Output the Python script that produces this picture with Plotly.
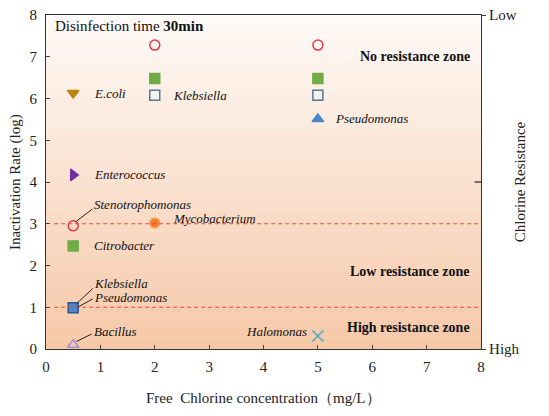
import plotly.graph_objects as go

# ---- data ----
names = ["E.coli", "Enterococcus", "Stenotrophomonas", "Citrobacter", "Klebsiella/Pseudomonas", "Bacillus",
         "Stenotrophomonas 2", "Citrobacter 2", "Klebsiella 2", "Mycobacterium",
         "Stenotrophomonas 5", "Citrobacter 5", "Klebsiella 5", "Pseudomonas 5", "Halomonas"]
conc = [0.5, 0.5, 0.5, 0.5, 0.5, 0.5, 2, 2, 2, 2, 5, 5, 5, 5, 5]
inact = [6.13, 4.17, 2.95, 2.47, 0.99, 0.1, 7.28, 6.48, 6.08, 3.02, 7.28, 6.48, 6.08, 5.51, 0.31]
symbols = ["triangle-down", "triangle-right", "circle-open", "square", "square", "triangle-up-open",
           "circle-open", "square", "square", "circle",
           "circle-open", "square", "square", "triangle-up", "x-thin"]
colors = ["#b8860b", "#7030a0", "#e8374a", "#70ad47", "#4f86c6", "#a48fcf",
          "#e8374a", "#70ad47", "#f2f2f2", "#f07b2a",
          "#e8374a", "#70ad47", "#f2f2f2", "#4a86c8", "#4bacc6"]
edges = ["#b8860b", "#7030a0", "#e8374a", "#70ad47", "#2f5597", "#a48fcf",
         "#e8374a", "#70ad47", "#5a7895", "#f4a460",
         "#e8374a", "#70ad47", "#5a7895", "#4a86c8", "#4bacc6"]

thresholds = [1, 3]
x_ticks = list(range(9))
y_ticks = list(range(9))
right_ticks = [0, 8]
right_labels = ["High", "Low"]

serif = "Liberation Serif, Times New Roman, serif"

fig = go.Figure()

# gradient background bands
n = 60
c0 = (254, 250, 247)
c1 = (246, 200, 168)
shapes = []
for i in range(n):
    t = i / (n - 1)
    r = round(c1[0] + (c0[0] - c1[0]) * t)
    g = round(c1[1] + (c0[1] - c1[1]) * t)
    b = round(c1[2] + (c0[2] - c1[2]) * t)
    shapes.append(dict(type="rect", xref="x", yref="y", x0=0, x1=8,
                       y0=8 * i / n, y1=8 * (i + 1) / n + 0.01,
                       fillcolor=f"rgb({r},{g},{b})", line=dict(width=0), layer="below"))

for th in thresholds:
    shapes.append(dict(type="line", xref="x", yref="y", x0=0.15, x1=8, y0=th, y1=th,
                       line=dict(color="#e9493c", width=1.2, dash="4px,3px"), layer="above"))

# leader lines
leaders = [(0.55, 3.05, 0.85, 3.35), (0.56, 1.08, 0.86, 1.45), (0.58, 1.0, 0.86, 1.2), (0.56, 0.18, 0.84, 0.36)]
for x0, y0, x1, y1 in leaders:
    shapes.append(dict(type="line", xref="x", yref="y", x0=x0, y0=y0, x1=x1, y1=y1,
                       line=dict(color="#222222", width=1)))

# middle right tick inward
shapes.append(dict(type="line", xref="paper", yref="y", x0=0.985, x1=1.0, y0=4, y1=4,
                   line=dict(color="#222222", width=1.2)))

for i in range(len(conc)):
    sym = symbols[i]
    fig.add_trace(go.Scatter(
        x=[conc[i]], y=[inact[i]], mode="markers", name=names[i], showlegend=False,
        marker=dict(symbol=sym, size=10 if "x" not in sym else 11, color=colors[i],
                    line=dict(color=edges[i], width=1.5)), cliponaxis=False))

# dummy trace for right axis
fig.add_trace(go.Scatter(x=[None], y=[None], yaxis="y2", showlegend=False))

labels = [
    (0.85, 6.13, "E.coli", "left"),
    (2.3, 6.08, "Klebsiella", "left"),
    (5.27, 5.51, "Pseudomonas", "left"),
    (0.85, 4.17, "Enterococcus", "left"),
    (0.85, 3.45, "Stenotrophomonas", "left"),
    (2.3, 3.12, "Mycobacterium", "left"),
    (0.85, 2.47, "Citrobacter", "left"),
    (0.85, 1.57, "Klebsiella", "left"),
    (0.85, 1.24, "Pseudomonas", "left"),
    (0.85, 0.42, "Bacillus", "left"),
    (4.84, 0.42, "Halomonas", "right"),
]
annotations = []
for x, y, t, anc in labels:
    annotations.append(dict(x=x, y=y, xref="x", yref="y", text=f"<i>{t}</i>", showarrow=False,
                            xanchor=anc, yanchor="middle",
                            font=dict(family=serif, size=13, color="#111111")))

zones = [(7.0, "No resistance zone"), (1.85, "Low resistance zone"), (0.52, "High resistance zone")]
for y, t in zones:
    annotations.append(dict(x=7.84, y=y, xref="x", yref="y", text=f"<b>{t}</b>", showarrow=False,
                            xanchor="right", yanchor="middle",
                            font=dict(family=serif, size=14, color="#111111")))

annotations.append(dict(x=0.12, y=7.73, xref="x", yref="y", text="Disinfection time <b>30min</b>",
                        showarrow=False, xanchor="left", yanchor="middle",
                        font=dict(family=serif, size=15, color="#111111")))

# axis titles as annotations for precise placement
annotations.append(dict(x=-0.071, y=0.5, xref="paper", yref="paper", text="Inactivation Rate (log)",
                        textangle=-90, showarrow=False, xanchor="center", yanchor="middle",
                        font=dict(family=serif, size=15, color="#222222")))
annotations.append(dict(x=1.09, y=0.5, xref="paper", yref="paper", text="Chlorine Resistance",
                        textangle=-90, showarrow=False, xanchor="center", yanchor="middle",
                        font=dict(family=serif, size=15, color="#222222")))
annotations.append(dict(x=0.5, y=-0.148, xref="paper", yref="paper",
                        text="Free  Chlorine concentration（mg/L）",
                        showarrow=False, xanchor="center", yanchor="middle",
                        font=dict(family=serif, size=15, color="#222222")))

# page has an 8px body margin; compensate so the plot area lands at x 46..481, y 15..349
fig.update_layout(
    width=549, height=416,
    margin=dict(l=38, r=76, t=7, b=75),
    paper_bgcolor="white", plot_bgcolor="white",
    font=dict(family=serif, size=15, color="#222222"),
    shapes=shapes, annotations=annotations,
    xaxis=dict(range=[0, 8], tickvals=x_ticks, ticks="inside", ticklen=4,
               showline=True, linecolor="#333333", linewidth=1.2, mirror=True,
               showgrid=False, zeroline=False, automargin=False, ticklabeloverflow="allow",
               ticklabelstandoff=4),
    yaxis=dict(range=[0, 8], tickvals=y_ticks, ticks="inside", ticklen=4,
               showline=True, linecolor="#333333", linewidth=1.2, mirror=True,
               showgrid=False, zeroline=False, automargin=False, ticklabeloverflow="allow",
               ticklabelstandoff=5),
    yaxis2=dict(range=[0, 8], overlaying="y", side="right", tickvals=right_ticks, ticktext=right_labels,
                ticks="outside", ticklen=4, showline=True, linecolor="#333333", linewidth=1.2,
                showgrid=False, zeroline=False, automargin=False, ticklabeloverflow="allow"),
)

fig.write_html("out.html")
